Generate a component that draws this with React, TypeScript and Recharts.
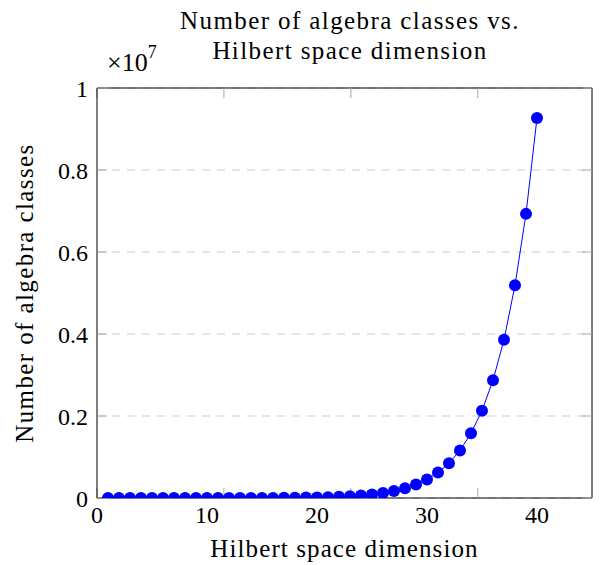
import React from 'react';
import { LineChart, Line, XAxis, YAxis, CartesianGrid, Label } from 'recharts';

const dimensions = [
  1, 2, 3, 4, 5, 6, 7, 8, 9, 10, 11, 12, 13, 14, 15, 16, 17, 18, 19, 20,
  21, 22, 23, 24, 25, 26, 27, 28, 29, 30, 31, 32, 33, 34, 35, 36, 37, 38, 39, 40,
];
const classCounts = [
  3, 6, 10, 17, 28, 45, 70, 110, 170, 260, 400, 600, 900, 1300, 2000, 3000, 4400, 6500, 9500, 14000,
  20000, 29000, 42000, 60000, 85000, 120000, 170000, 240000, 330000, 450000,
  620000, 850000, 1160000, 1580000, 2130000, 2870000, 3860000, 5190000, 6930000, 9270000,
];
const xTicks = [0, 10, 20, 30, 40];
const yTicks = [0, 2000000, 4000000, 6000000, 8000000, 10000000];
const titleLines = ['Number of algebra classes vs.', 'Hilbert space dimension'];
const xLabel = 'Hilbert space dimension';
const yLabel = 'Number of algebra classes';
const multiplierBase = '×10';
const multiplierExp = '7';

const data = dimensions.map((d, i) => ({ dim: d, count: classCounts[i] }));

const FONT = '"Liberation Serif", "Times New Roman", serif';
const TICK_GREY = '#a8a8a8';
const LS = '1.4px';

export default function App() {
  return (
    <div style={{ position: 'relative', width: 593, height: 557, fontFamily: FONT, color: '#000' }}>
      <LineChart
        width={593}
        height={557}
        data={data}
        margin={{ top: 80, right: 9, bottom: 37, left: 29 }}
      >
        <CartesianGrid
          xAxisId="main"
          yAxisId="main"
          vertical={false}
          stroke="#cccccc"
          strokeDasharray="8 7"
        />
        <XAxis
          xAxisId="main"
          dataKey="dim"
          type="number"
          domain={[0, 45]}
          ticks={xTicks}
          interval={0}
          allowDataOverflow
          height={30}
          axisLine={{ stroke: '#000' }}
          tickLine={false}
          tickSize={0}
          tickMargin={8}
          tick={{ fill: '#000', fontSize: 24, fontFamily: FONT }}
        >
          <Label
            value={xLabel}
            position="bottom"
            offset={11}
            style={{ fill: '#000', fontSize: 25, fontFamily: FONT, letterSpacing: '1.1px' }}
          />
        </XAxis>
        <XAxis
          xAxisId="bottomTicks"
          type="number"
          domain={[0, 45]}
          ticks={xTicks}
          interval={0}
          allowDataOverflow
          orientation="bottom"
          mirror
          height={1}
          axisLine={false}
          tickLine={{ stroke: TICK_GREY }}
          tickSize={10}
          tickFormatter={() => ''}
        />
        <XAxis
          xAxisId="top"
          type="number"
          domain={[0, 45]}
          ticks={xTicks}
          interval={0}
          allowDataOverflow
          orientation="top"
          mirror
          height={1}
          axisLine={{ stroke: '#000' }}
          tickLine={{ stroke: TICK_GREY }}
          tickSize={10}
          tickFormatter={() => ''}
        />
        <YAxis
          yAxisId="main"
          type="number"
          domain={[0, 10000000]}
          ticks={yTicks}
          interval={0}
          allowDataOverflow
          width={60}
          axisLine={{ stroke: '#000' }}
          tickLine={false}
          tickSize={0}
          tickMargin={9}
          tickFormatter={(v: number) => String(Math.round((v / 10000000) * 10) / 10)}
          tick={{ fill: '#000', fontSize: 24, fontFamily: FONT }}
        />
        <YAxis
          yAxisId="leftTicks"
          type="number"
          domain={[0, 10000000]}
          ticks={yTicks}
          interval={0}
          allowDataOverflow
          orientation="left"
          mirror
          width={1}
          axisLine={false}
          tickLine={{ stroke: TICK_GREY }}
          tickSize={10}
          tickFormatter={() => ''}
        />
        <YAxis
          yAxisId="right"
          type="number"
          domain={[0, 10000000]}
          ticks={yTicks}
          interval={0}
          allowDataOverflow
          orientation="right"
          mirror
          width={1}
          axisLine={{ stroke: '#000' }}
          tickLine={{ stroke: TICK_GREY }}
          tickSize={10}
          tickFormatter={() => ''}
        />
        <Line
          xAxisId="main"
          yAxisId="main"
          dataKey="count"
          stroke="#0000ff"
          strokeWidth={1}
          dot={{ r: 6, fill: '#0000ff', stroke: 'none' }}
          activeDot={false}
          isAnimationActive={false}
        />
      </LineChart>
      <div
        style={{
          position: 'absolute',
          left: 142,
          width: 400,
          top: -2,
          textAlign: 'center',
          fontSize: 25,
          letterSpacing: LS,
          lineHeight: '30px',
          whiteSpace: 'nowrap',
        }}
      >
        {titleLines.map((t) => (
          <div key={t}>{t}</div>
        ))}
      </div>
      <div
        style={{
          position: 'absolute',
          left: 99,
          top: 40,
          fontSize: 26,
          lineHeight: '30px',
          whiteSpace: 'nowrap',
        }}
      >
        {multiplierBase}
        <span style={{ fontSize: 18, verticalAlign: '13px', lineHeight: 0 }}>{multiplierExp}</span>
      </div>
      <div
        style={{
          position: 'absolute',
          left: 17 - 200,
          top: 285 - 15,
          width: 400,
          height: 30,
          lineHeight: '30px',
          fontSize: 25,
          letterSpacing: LS,
          textAlign: 'center',
          whiteSpace: 'nowrap',
          transform: 'rotate(-90deg)',
        }}
      >
        {yLabel}
      </div>
    </div>
  );
}
